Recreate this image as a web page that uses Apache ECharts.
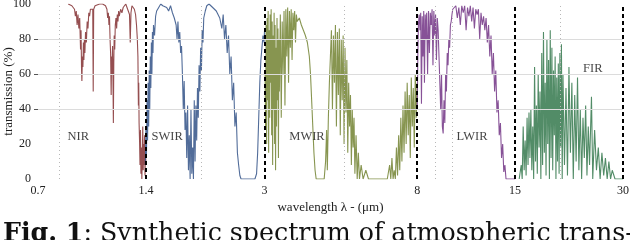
<!DOCTYPE html>
<html>
<head>
<meta charset="utf-8">
<script src="https://cdn.jsdelivr.net/npm/echarts@6/dist/echarts.min.js"></script>
<style>html,body{margin:0;padding:0;background:#fff}#c{width:630px;height:240px}</style>
</head>
<body>
<div id="c"></div>
<script>
// ---- data ----
const xTicks = [0.7, 1.4, 3, 8, 15, 30];
const yTicks = [0, 20, 40, 60, 80, 100];
const yGridLines = [40, 60, 80];
const bandBounds = [1.4, 3, 8, 15, 30];
const minorLines = [0.8, 2, 5, 9, 10, 20];
const bandNames = ['NIR', 'SWIR', 'MWIR', 'LWIR', 'FIR'];
const bandLabelWl = [0.907, 1.605, 3.94, 11.37, 24.7];
const bandLabelT = [24, 24, 24, 24, 63];

const nirWl = [0.850,0.860,0.870,0.880,0.885,0.890,0.895,0.900,0.905,0.910,0.915,0.920,0.923,0.926,0.928,0.931,0.934,0.937,0.940,0.943,0.946,0.950,0.955,0.960,0.965,0.970,0.975,0.980,0.985,0.990,0.995,0.998,1.001,1.010,1.020,1.040,1.060,1.080,1.090,1.095,1.100,1.104,1.108,1.112,1.116,1.120,1.123,1.126,1.130,1.133,1.136,1.139,1.142,1.146,1.150,1.155,1.160,1.165,1.170,1.175,1.180,1.190,1.200,1.210,1.220,1.230,1.240,1.250,1.260,1.266,1.272,1.280,1.290,1.300,1.310,1.318,1.325,1.330,1.334,1.337,1.340,1.344,1.348,1.352,1.356,1.360,1.364,1.368,1.372,1.376,1.380,1.384,1.388,1.392,1.396,1.400];
const nirT  = [100,100,99,99,97,93,96,88,94,86,92,74,85,62,56,70,64,78,68,80,72,84,78,90,86,95,93,97,96,98,97,50,97,99,100,100,100,99,97,92,95,88,93,80,72,48,70,60,76,58,32,66,82,74,88,92,86,94,90,96,93,97,95,98,99,100,98,96,94,78,95,99,100,97,94,88,80,70,42,55,32,22,8,28,3,18,0,12,30,5,20,8,25,2,15,10];

const swirWl = [1.395,1.400,1.405,1.410,1.415,1.420,1.425,1.430,1.435,1.440,1.445,1.450,1.455,1.460,1.465,1.470,1.480,1.490,1.500,1.520,1.540,1.560,1.580,1.600,1.620,1.640,1.660,1.680,1.700,1.710,1.720,1.730,1.740,1.750,1.760,1.770,1.780,1.790,1.800,1.810,1.820,1.830,1.840,1.850,1.860,1.870,1.880,1.890,1.900,1.910,1.920,1.930,1.940,1.950,1.960,1.970,1.980,1.990,2.000,2.010,2.020,2.030,2.050,2.070,2.100,2.150,2.200,2.250,2.280,2.300,2.320,2.340,2.360,2.380,2.400,2.420,2.440,2.460,2.480,2.500,2.520,2.540,2.560,2.580,2.700,2.820,2.850,2.870,2.890,2.910,2.930,2.950,2.970,2.990,3.000];
const swirT  = [8,30,12,45,22,55,30,62,40,70,52,78,60,84,72,88,82,93,96,98,100,99,100,98,96,99,95,92,88,80,90,78,84,72,76,60,40,56,28,38,12,42,5,25,0,40,3,18,0,45,10,42,22,52,35,65,50,75,62,85,78,92,96,99,100,98,96,92,86,94,80,88,72,82,60,70,45,55,30,38,15,8,2,0,0,0,3,15,35,55,68,75,82,78,85];

const mwirWl = [3.010,3.020,3.030,3.040,3.050,3.060,3.070,3.080,3.090,3.100,3.110,3.120,3.130,3.140,3.150,3.160,3.170,3.180,3.190,3.200,3.210,3.220,3.230,3.240,3.250,3.260,3.270,3.280,3.290,3.300,3.320,3.340,3.360,3.380,3.400,3.420,3.440,3.460,3.480,3.500,3.520,3.540,3.560,3.580,3.600,3.620,3.640,3.660,3.680,3.700,3.750,3.800,3.850,3.900,3.950,4.000,4.030,4.060,4.090,4.120,4.150,4.180,4.300,4.400,4.440,4.470,4.490,4.520,4.550,4.580,4.610,4.640,4.670,4.700,4.730,4.760,4.790,4.820,4.850,4.880,4.910,4.940,4.970,5.000,5.030,5.060,5.090,5.120,5.150,5.180,5.210,5.240,5.270,5.300,5.330,5.360,5.400,5.440,5.480,5.520,5.580,5.650,5.750,5.850,6.000,6.200,6.400,6.600,6.700,6.750,6.800,6.850,6.900,6.950,7.000,7.050,7.100,7.150,7.200,7.250,7.300,7.350,7.400,7.450,7.500,7.550,7.600,7.650,7.700,7.750,7.800,7.850,7.900,7.950,8.000];
const mwirT  = [60,30,88,20,92,45,96,15,85,35,94,55,97,25,90,8,82,40,95,20,88,5,75,30,92,45,86,12,80,50,94,35,90,60,96,42,97,70,98,55,96,75,97,68,95,85,96,78,94,90,92,88,85,82,78,70,60,45,30,15,5,0,0,0,10,28,5,35,55,70,85,40,82,55,88,30,84,48,86,25,80,45,82,20,75,38,68,15,55,30,48,8,40,18,35,3,25,0,15,0,8,0,5,0,0,0,0,0,8,0,12,0,5,0,18,2,25,5,35,10,42,15,50,20,55,25,48,12,58,30,52,18,60,35,55];

const lwirWl = [8.00,8.03,8.06,8.10,8.14,8.18,8.22,8.26,8.30,8.34,8.38,8.42,8.46,8.50,8.55,8.60,8.65,8.70,8.75,8.80,8.85,8.90,8.95,9.00,9.05,9.10,9.15,9.20,9.25,9.30,9.35,9.40,9.45,9.50,9.55,9.60,9.65,9.70,9.75,9.80,9.85,9.90,9.95,10.00,10.05,10.10,10.15,10.25,10.35,10.45,10.55,10.65,10.75,10.85,10.95,11.05,11.15,11.25,11.35,11.45,11.55,11.65,11.75,11.85,11.95,12.05,12.15,12.25,12.35,12.45,12.55,12.65,12.75,12.85,12.95,13.05,13.15,13.25,13.35,13.45,13.55,13.65,13.75,13.85,13.95,14.05,14.15,14.60,15.00];
const lwirT  = [40,70,88,94,85,95,43,93,70,96,55,94,80,95,60,96,72,95,88,97,65,96,82,94,68,92,85,70,55,40,60,30,26,45,32,60,50,72,65,80,75,88,90,94,97,96,98,99,92,98,88,99,95,99,85,98,93,99,90,98,86,97,94,97,80,95,88,93,85,92,78,88,70,82,60,72,50,62,38,45,25,32,12,20,4,8,0,0,0];

const firWl = [15.40,15.60,15.70,15.80,15.90,16.00,16.10,16.20,16.30,16.40,16.50,16.60,16.70,16.80,16.90,17.00,17.10,17.20,17.30,17.40,17.50,17.60,17.70,17.80,17.90,18.00,18.10,18.20,18.30,18.40,18.50,18.60,18.70,18.80,18.90,19.00,19.10,19.20,19.30,19.40,19.50,19.60,19.70,19.80,19.90,20.00,20.10,20.20,20.30,20.40,20.60,20.80,21.00,21.20,21.40,21.60,21.80,22.00,22.20,22.40,22.60,22.80,23.00,23.20,23.40,23.60,23.80,24.00,24.20,24.50,24.70,25.00,25.30,25.60,25.90,26.20,26.50,26.80,27.10,27.40,27.70,28.00,28.50,29.00,30.00];
const firT  = [0,8,0,30,5,22,2,35,8,38,12,40,5,30,0,64,10,42,3,60,18,50,0,72,8,84,15,55,2,80,20,68,0,85,12,75,5,62,25,70,0,58,10,66,3,72,18,77,0,60,8,52,2,64,15,55,0,48,10,58,5,40,0,35,12,42,2,30,8,47,0,28,5,18,0,15,2,12,0,10,0,5,0,0,0];

const bandColors = ['#8a3b3d', '#3e5c8e', '#7a893d', '#7a3f8c', '#3f7f57'];

// ---- chart ----
const zip = (a, b) => a.map((v, i) => [v, b[i]]);
const bands = [[nirWl, nirT], [swirWl, swirT], [mwirWl, mwirT], [lwirWl, lwirT], [firWl, firT]];
const FONT = 'Liberation Serif';

const chart = echarts.init(document.getElementById('c'), null, {renderer: 'canvas'});
const series = bands.map((b, i) => ({
  type: 'line',
  name: bandNames[i],
  data: zip(b[0], b[1]),
  showSymbol: false,
  symbol: 'none',
  lineStyle: {width: 1.1, color: bandColors[i], opacity: 0.9},
  z: 3,
  silent: true
}));
series.push({
  type: 'line',
  data: [],
  silent: true,
  z: 1,
  markLine: {
    silent: true, symbol: 'none', label: {show: false},
    lineStyle: {color: '#dcdcdc', type: 'solid', width: 1},
    data: yGridLines.map(v => ({yAxis: v}))
  }
});
series.push({
  type: 'line',
  data: [],
  silent: true,
  z: 1,
  markLine: {
    silent: true, symbol: 'none', label: {show: false},
    lineStyle: {color: '#b8b8b8', type: [1, 3], width: 1},
    data: minorLines.map(v => ({xAxis: v}))
  }
});
series.push({
  type: 'line',
  data: [],
  silent: true,
  z: 5,
  markLine: {
    silent: true, symbol: 'none', label: {show: false},
    lineStyle: {color: '#000', type: [4, 3], width: 2},
    data: bandBounds.map(v => ({xAxis: v}))
  }
});
series.push({
  type: 'scatter',
  data: bandNames.map((n, i) => ({name: n, value: [bandLabelWl[i], bandLabelT[i]]})),
  symbolSize: 0,
  silent: true,
  z: 6,
  label: {show: true, position: 'inside', formatter: p => p.name, color: '#111', fontFamily: FONT, fontSize: 12.5}
});

chart.setOption({
  animation: false,
  backgroundColor: '#fff',
  grid: {left: 38, right: 7, top: 4, bottom: 61, containLabel: false, outerBoundsMode: 'none'},
  xAxis: {
    type: 'log', min: 0.7, max: 30, logBase: 10,
    axisLine: {show: false}, axisTick: {show: false}, splitLine: {show: false}, minorTick: {show: false},
    axisLabel: {customValues: xTicks, formatter: v => String(+(+v).toPrecision(2)), fontFamily: FONT, fontSize: 12, color: '#222', margin: 6},
    name: 'wavelength λ - (μm)', nameLocation: 'middle', nameGap: 22, nameMoveOverlap: false,
    nameTextStyle: {fontFamily: FONT, fontSize: 13, color: '#222'}
  },
  yAxis: {
    type: 'value', min: 0, max: 100, interval: 20,
    axisLine: {show: false},
    axisTick: {show: true, customValues: yGridLines, length: 4, lineStyle: {color: '#555'}},
    axisLabel: {customValues: yTicks, fontFamily: FONT, fontSize: 12, color: '#222', margin: 7},
    splitLine: {show: false},
    name: 'transmission (%)', nameLocation: 'middle', nameGap: 23, nameRotate: 90, nameMoveOverlap: false,
    nameTextStyle: {fontFamily: FONT, fontSize: 13, color: '#222'}
  },
  graphic: [{
    type: 'text', left: 3, top: 222, silent: true,
    style: {
      text: '{b|Fig. 1}: Synthetic spectrum of atmospheric trans-',
      fontFamily: 'DejaVu Serif', fontSize: 25.3, fill: '#111',
      rich: {b: {fontFamily: 'DejaVu Serif', fontSize: 25.3, fontWeight: 'bold', fill: '#111'}}
    }
  }],
  series: series
});
</script>
</body>
</html>
